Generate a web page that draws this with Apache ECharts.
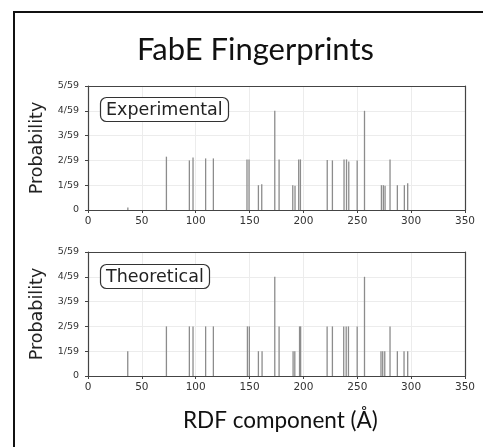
<!DOCTYPE html>
<html>
<head>
<meta charset="utf-8">
<script src="https://cdn.jsdelivr.net/npm/echarts@6/dist/echarts.min.js"></script>
<style>
  html, body { margin: 0; padding: 0; background: #fff; }
  #chart { width: 483px; height: 447px; }
</style>
</head>
<body>
<div id="chart"></div>
<script>
// RDF component positions (Å) and counts (out of 59)
const expPos = [37, 72.8, 94.1, 97.5, 109.2, 116.4, 147.6, 149.5, 158.2, 161.3, 173.4, 177.4, 190.1, 192.2,
  195.6, 197.2, 222.1, 226.9, 237.7, 240.0, 242.1, 249.9, 256.7, 272.4, 274.2, 275.8, 280.4, 287.2, 293.7, 296.8];
const expCnt = [0.1, 2.15, 2.0, 2.12, 2.08, 2.08, 2.04, 2.04, 1.0, 1.04, 4.0, 2.04, 1.0, 0.98,
  2.04, 2.04, 2.02, 2.0, 2.04, 2.04, 1.96, 2.0, 4.0, 1.0, 1.0, 0.98, 2.04, 1.0, 1.0, 1.08];

const theoPos = [36.9, 72.8, 94.1, 97.5, 109.2, 116.4, 148.0, 149.8, 158.2, 161.6, 173.4, 177.4, 190.4, 192.0,
  196.4, 197.4, 222.0, 226.9, 237.4, 239.7, 241.8, 249.9, 256.7, 272.0, 273.6, 275.5, 280.4, 287.2, 293.4, 296.8];
const theoCnt = [1, 2, 2, 2, 2, 2, 2, 2, 1, 1, 4, 2, 1, 1,
  2, 2, 2, 2, 2, 2, 2, 2, 4, 1, 1, 1, 2, 1, 1, 1];

const yTicks = ['0', '1/59', '2/59', '3/59', '4/59', '5/59'];

const chart = echarts.init(document.getElementById('chart'));

const pair = (xs, ys) => xs.map((x, i) => [x, ys[i]]);

function xAxisCfg(idx) {
  return {
    gridIndex: idx, type: 'value', min: 0, max: 350, interval: 50,
    axisLine: { show: true, onZero: false, lineStyle: { color: '#444', width: 1.2 } },
    axisTick: { show: true, length: 3, lineStyle: { color: '#444' } },
    axisLabel: { color: '#333', fontSize: 10.5, fontFamily: 'DejaVu Sans', margin: 6 },
    splitLine: { show: true, lineStyle: { color: '#ececec', width: 1 } }
  };
}
function yAxisCfg(idx) {
  return {
    gridIndex: idx, type: 'value', min: 0, max: 5, interval: 1,
    name: 'Probability', nameLocation: 'middle', nameGap: 35,
    nameTextStyle: { color: '#222', fontSize: 17.5, fontFamily: 'DejaVu Sans' },
    axisLine: { show: true, lineStyle: { color: '#444', width: 1.2 } },
    axisTick: { show: true, length: 3, lineStyle: { color: '#444' } },
    axisLabel: { color: '#333', fontSize: 9.5, fontFamily: 'DejaVu Sans', margin: 9,
      formatter: v => yTicks[Math.round(v)] },
    splitLine: { show: true, lineStyle: { color: '#ececec', width: 1 } }
  };
}
function frameAxis(idx, isX) {
  return {
    gridIndex: idx, type: 'value', min: 0, max: isX ? 350 : 5,
    position: isX ? 'top' : 'right',
    axisLine: { show: true, onZero: false, lineStyle: { color: '#444', width: 1.2 } },
    axisTick: { show: false }, axisLabel: { show: false }, splitLine: { show: false }
  };
}

function labelBox(text, left, top) {
  return {
    text: text, left: left, top: top,
    borderColor: '#333', borderWidth: 1.2, borderRadius: 6,
    padding: [4, 6, 3, 6], backgroundColor: '#fff',
    textStyle: { fontSize: 17.5, fontWeight: 'normal', color: '#222', fontFamily: 'DejaVu Sans' }
  };
}

chart.setOption({
  backgroundColor: '#fff',
  animation: false,
  title: [
    { text: 'FabE Fingerprints', left: 132, top: 29,
      textStyle: { fontSize: 31, fontWeight: 'normal', color: '#111', fontFamily: 'Lato' } },
    { text: 'RDF component (Å)', left: 178, top: 404,
      textStyle: { fontSize: 22.5, fontWeight: 'normal', color: '#111', fontFamily: 'Lato' } },
    labelBox('Experimental', 100, 97),
    labelBox('Theoretical', 100, 264)
  ],
  grid: [
    { left: 88, top: 86, width: 377, height: 124 },
    { left: 88, top: 252, width: 377, height: 124 }
  ],
  xAxis: [xAxisCfg(0), xAxisCfg(1), frameAxis(0, true), frameAxis(1, true)],
  yAxis: [yAxisCfg(0), yAxisCfg(1), frameAxis(0, false), frameAxis(1, false)],
  series: [
    { type: 'bar', xAxisIndex: 0, yAxisIndex: 0, barWidth: 1.3, z: 5,
      itemStyle: { color: '#8c8c8c' }, data: pair(expPos, expCnt) },
    { type: 'bar', xAxisIndex: 1, yAxisIndex: 1, barWidth: 1.3, z: 5,
      itemStyle: { color: '#8c8c8c' }, data: pair(theoPos, theoCnt) }
  ],
  graphic: [
    { type: 'rect', silent: true, z: 100,
      shape: { x: 14, y: 12, width: 480, height: 460 },
      style: { fill: 'none', stroke: '#111', lineWidth: 2 } }
  ]
});
</script>
</body>
</html>
